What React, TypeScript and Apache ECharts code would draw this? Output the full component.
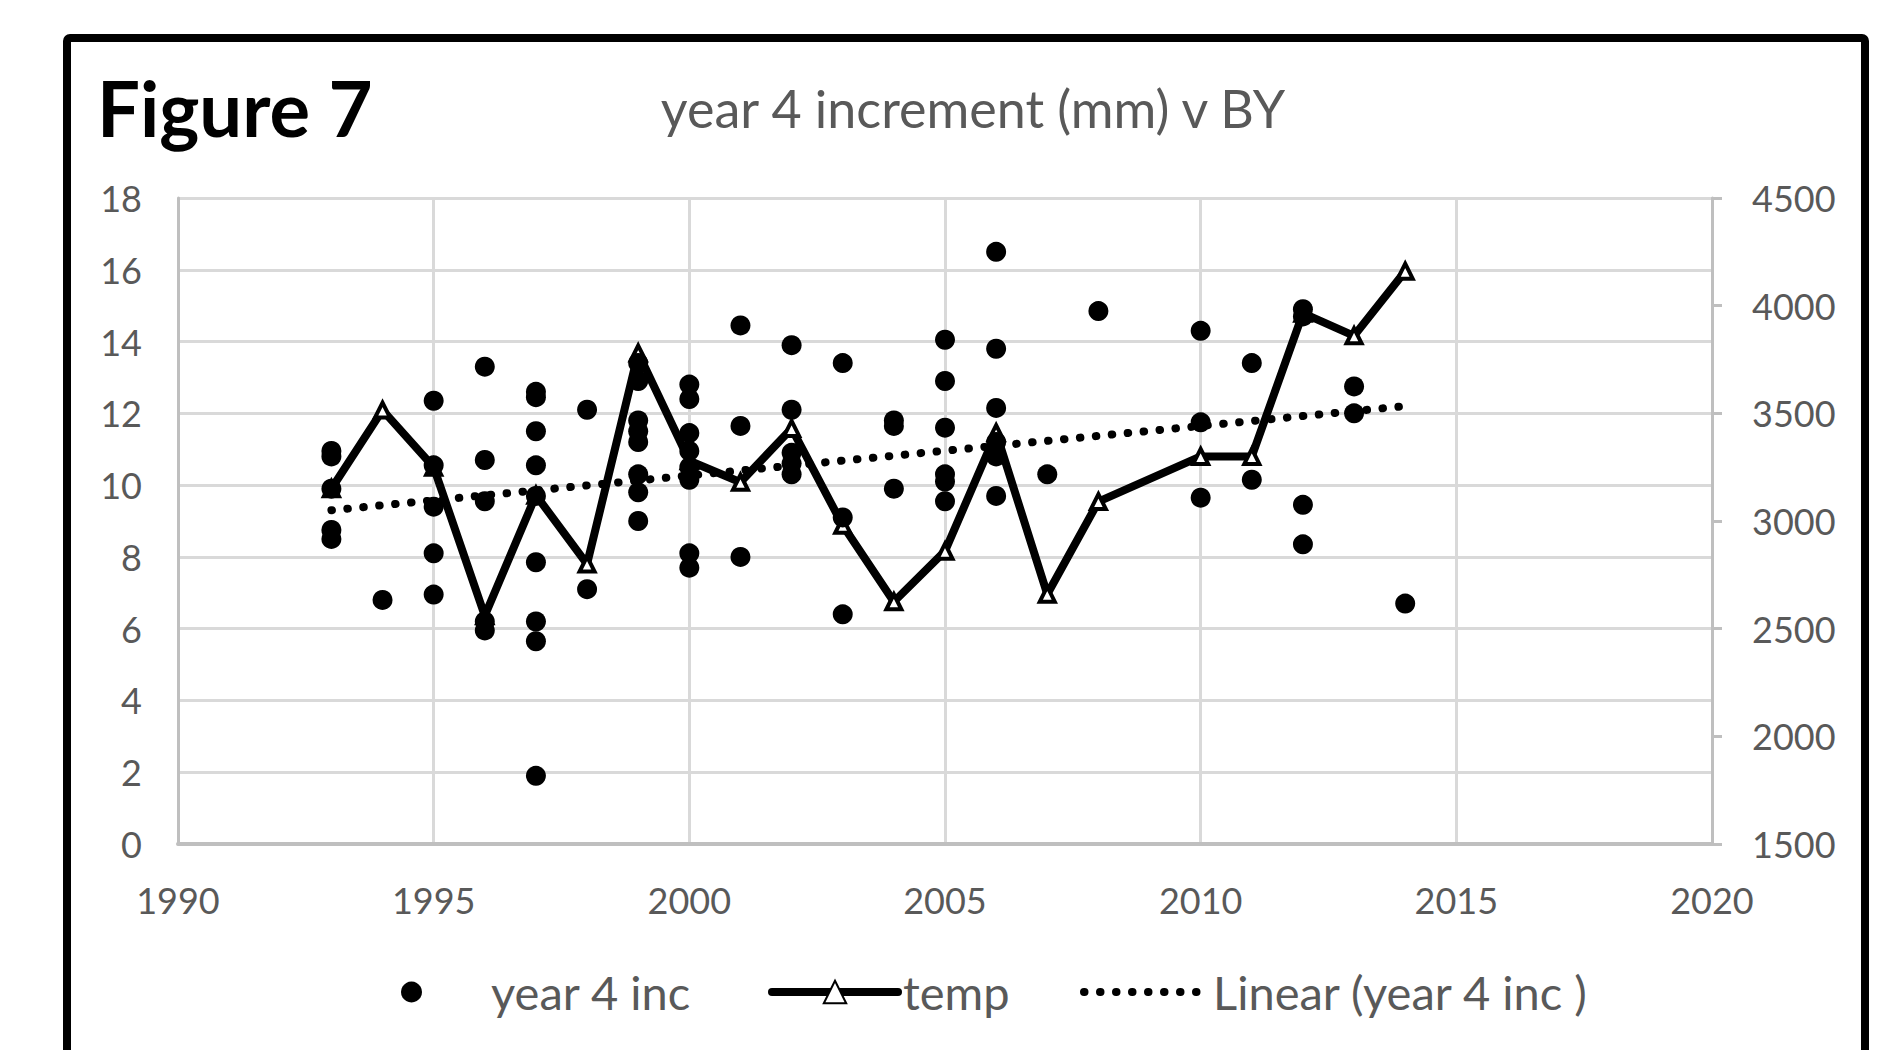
import React, { useEffect, useRef } from "react";
import * as echarts from "echarts";

// x axis ticks (years)
const xMin = 1990;
const xMax = 2020;
const xInterval = 5;

// left axis: year 4 increment (mm)
const leftMin = 0;
const leftMax = 18;
const leftInterval = 2;

// right axis: temp
const rightMin = 1500;
const rightMax = 4500;
const rightInterval = 500;

// scatter: year 4 inc  [year, mm]
const year4Inc: [number, number][] = [
  [1993, 10.95], [1993, 10.8], [1993, 9.9], [1993, 8.75], [1993, 8.5],
  [1994, 6.8],
  [1995, 12.35], [1995, 10.55], [1995, 9.4], [1995, 8.1], [1995, 6.95],
  [1996, 13.3], [1996, 10.7], [1996, 9.55], [1996, 6.2], [1996, 5.95],
  [1997, 12.6], [1997, 12.45], [1997, 11.5], [1997, 10.55], [1997, 9.7], [1997, 7.85], [1997, 6.2], [1997, 5.65], [1997, 1.9],
  [1998, 12.1], [1998, 7.1],
  [1999, 13.4], [1999, 12.9], [1999, 11.8], [1999, 11.5], [1999, 11.2], [1999, 10.3], [1999, 9.8], [1999, 9.0],
  [2000, 12.8], [2000, 12.4], [2000, 11.45], [2000, 10.95], [2000, 10.5], [2000, 10.15], [2000, 8.1], [2000, 7.7],
  [2001, 14.45], [2001, 11.65], [2001, 8.0],
  [2002, 13.9], [2002, 12.1], [2002, 10.9], [2002, 10.6], [2002, 10.3],
  [2003, 13.4], [2003, 9.1], [2003, 6.4],
  [2004, 11.8], [2004, 11.65], [2004, 9.9],
  [2005, 14.05], [2005, 12.9], [2005, 11.6], [2005, 10.3], [2005, 10.1], [2005, 9.55],
  [2006, 16.5], [2006, 13.8], [2006, 12.15], [2006, 11.2], [2006, 10.8], [2006, 9.7],
  [2007, 10.3],
  [2008, 14.85],
  [2010, 14.3], [2010, 11.75], [2010, 9.65],
  [2011, 13.4], [2011, 10.15],
  [2012, 14.9], [2012, 14.7], [2012, 9.45], [2012, 8.35],
  [2013, 12.75], [2013, 12.0],
  [2014, 6.7],
];

// line: temp (right axis)
const tempYears = [1993, 1994, 1995, 1996, 1997, 1998, 1999, 2000, 2001, 2002, 2003, 2004, 2005, 2006, 2007, 2008, 2010, 2011, 2012, 2013, 2014];
const tempValues = [3150, 3515, 3250, 2560, 3120, 2800, 3780, 3280, 3180, 3430, 2980, 2625, 2860, 3410, 2660, 3090, 3300, 3300, 3965, 3860, 4160];

// trend line: Linear (year 4 inc )
const trendYears = [1993, 2014];
const trendValues = [9.3, 12.2];

const seriesNames = ["year 4 inc", "temp", "Linear (year 4 inc )"];
const titleText = "Figure 7";
const subtitleText = "year 4 increment (mm) v BY";

const FONT = "Lato";
const GREY_TEXT = "#595959";
const GRID_COLOR = "#d9d9d9";
const AXIS_COLOR = "#bfbfbf";

const TEMP_LINE_WIDTH = 8;
const TREND_DASH = [0.5, 15.5];
const TREND_WIDTH = 8;

export default function App() {
  const ref = useRef<HTMLDivElement>(null);

  useEffect(() => {
    if (!ref.current) return;
    const chart = echarts.init(ref.current, null, { renderer: "svg" });

    const legendText = {
      color: GREY_TEXT,
      fontSize: 47,
      fontFamily: FONT,
      lineHeight: 50,
    };
    const plain = (v: number) => String(v);

    const option: any = {
      animation: false,
      backgroundColor: "#ffffff",
      textStyle: { fontFamily: FONT },
      grid: { left: 178, right: 184, top: 198, bottom: 206, containLabel: false },
      xAxis: {
        type: "value",
        min: xMin,
        max: xMax,
        interval: xInterval,
        axisLine: { show: true, lineStyle: { color: AXIS_COLOR, width: 4 } },
        axisTick: { show: false },
        splitLine: { show: true, lineStyle: { color: GRID_COLOR, width: 3 } },
        axisLabel: { fontSize: 36, color: GREY_TEXT, fontFamily: FONT, margin: 38, formatter: plain },
      },
      yAxis: [
        {
          type: "value",
          position: "left",
          min: leftMin,
          max: leftMax,
          interval: leftInterval,
          axisLine: { show: true, lineStyle: { color: AXIS_COLOR, width: 3 } },
          axisTick: { show: false },
          splitLine: { show: true, lineStyle: { color: GRID_COLOR, width: 3 } },
          axisLabel: { fontSize: 36, color: GREY_TEXT, fontFamily: FONT, margin: 36, formatter: plain },
        },
        {
          type: "value",
          position: "right",
          min: rightMin,
          max: rightMax,
          interval: rightInterval,
          axisLine: { show: true, lineStyle: { color: AXIS_COLOR, width: 3 } },
          axisTick: { show: true, length: 10, lineStyle: { color: AXIS_COLOR, width: 3 } },
          splitLine: { show: false },
          axisLabel: { fontSize: 36, color: GREY_TEXT, fontFamily: FONT, margin: 40, formatter: plain },
        },
      ],
      legend: [
        {
          left: 401,
          top: 967,
          padding: 0,
          selectedMode: false,
          itemWidth: 21,
          itemHeight: 21,
          textStyle: { ...legendText, padding: [0, 0, 0, 64] },
          data: [{ name: seriesNames[0], icon: "circle", itemStyle: { color: "#000000", opacity: 1 } }],
        },
        {
          left: 768,
          top: 967,
          padding: 0,
          selectedMode: false,
          itemWidth: 126,
          itemHeight: 28,
          textStyle: legendText,
          lineStyle: { color: "#000000", width: TEMP_LINE_WIDTH, cap: "round" },
          data: [{ name: seriesNames[1] }],
        },
        {
          left: 1080,
          top: 967,
          padding: 0,
          selectedMode: false,
          itemWidth: 124,
          itemHeight: 24,
          textStyle: legendText,
          lineStyle: { color: "#000000", width: TREND_WIDTH, type: TREND_DASH, cap: "round" },
          data: [
            {
              name: seriesNames[2],
              itemStyle: { color: "rgba(0,0,0,0)", borderColor: "rgba(0,0,0,0)", borderWidth: 0 },
            },
          ],
        },
      ],
      graphic: [
        {
          type: "rect",
          z: 100,
          shape: { x: 67, y: 38, width: 1798, height: 1100, r: 3 },
          style: { fill: "none", stroke: "#000000", lineWidth: 8 },
          silent: true,
        },
        {
          type: "text",
          z: 100,
          x: 97,
          y: 107,
          style: {
            text: titleText,
            fill: "#000000",
            font: `bold 76px ${FONT}`,
            textAlign: "left",
            textVerticalAlign: "middle",
          },
        },
        {
          type: "text",
          z: 100,
          x: 973,
          y: 108,
          style: {
            text: subtitleText,
            fill: GREY_TEXT,
            font: `52px ${FONT}`,
            textAlign: "center",
            textVerticalAlign: "middle",
          },
        },
      ],
      series: [
        {
          name: seriesNames[1],
          type: "line",
          yAxisIndex: 1,
          data: tempYears.map((y, i) => [y, tempValues[i]]),
          symbol: "triangle",
          symbolSize: 15,
          showSymbol: true,
          lineStyle: { color: "#000000", width: TEMP_LINE_WIDTH },
          itemStyle: { color: "#ffffff", borderColor: "#000000", borderWidth: 4 },
          z: 3,
        },
        {
          name: seriesNames[0],
          type: "scatter",
          yAxisIndex: 0,
          data: year4Inc,
          symbol: "circle",
          symbolSize: 20,
          itemStyle: { color: "#000000", opacity: 1 },
          z: 4,
        },
        {
          name: seriesNames[2],
          type: "line",
          yAxisIndex: 0,
          data: trendYears.map((y, i) => [y, trendValues[i]]),
          symbol: "none",
          showSymbol: false,
          lineStyle: { color: "#000000", width: TREND_WIDTH, type: TREND_DASH, cap: "round" },
          z: 5,
        },
      ],
    };

    chart.setOption(option);
    return () => chart.dispose();
  }, []);

  return (
    <div
      ref={ref}
      style={{ position: "fixed", left: 0, top: 0, width: 1896, height: 1050, background: "#fff" }}
    />
  );
}
